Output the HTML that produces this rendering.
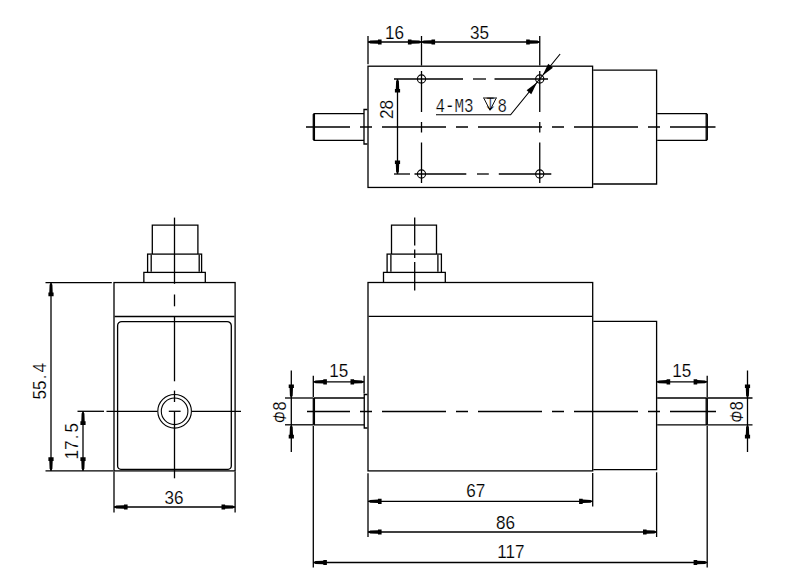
<!DOCTYPE html>
<html lang="en"><head><meta charset="utf-8"><title>Torque sensor outline drawing</title>
<style>
html,body{margin:0;padding:0;background:#fff}
body{width:800px;height:576px;overflow:hidden}
svg{display:block}
svg *{vector-effect:none}
.g{fill:none;stroke:#000;stroke-width:1.3}
.a{fill:#000;stroke:none}
.t{font-family:"Liberation Sans",sans-serif;font-size:18px;fill:#000;stroke:#fff;stroke-width:.15px}
.m{font-family:"Liberation Mono",monospace;font-size:15.9px;fill:#000;stroke:#fff;stroke-width:.2px}
.s{font-family:"DejaVu Sans",sans-serif;font-size:17px;fill:#000;stroke:#fff;stroke-width:.4px}
</style></head><body>
<svg width="800" height="576" viewBox="0 0 800 576">
<rect width="800" height="576" fill="#fff"/>
<g class="g">
<rect x="368" y="66.2" width="224.6" height="121.25"/>
<path d="M593.2 70.1H656.6V184H593.2"/>
<path d="M364 113.6H314.2L313.3 114.5V139.4L314.2 140.3H364"/>
<line x1="314.4" y1="113.6" x2="314.4" y2="140.3"/>
<path d="M367.4 109.5H364V144H367.4"/>
<path d="M657.2 113.6H706.4L707.3 114.5V139.4L706.4 140.3H657.2"/>
<line x1="706.2" y1="113.6" x2="706.2" y2="140.3"/>
<line x1="306" y1="127" x2="715.5" y2="127" stroke-dasharray="64 10 12 10" stroke-dashoffset="20"/>
<circle cx="421.5" cy="79" r="4.1" stroke-width="1.1"/>
<circle cx="421.5" cy="174" r="4.1" stroke-width="1.1"/>
<circle cx="539.75" cy="79" r="4.1" stroke-width="1.1"/>
<circle cx="539.75" cy="174" r="4.1" stroke-width="1.1"/>
<line x1="394" y1="79" x2="463" y2="79"/>
<line x1="473" y1="79" x2="486" y2="79"/>
<line x1="494.5" y1="79" x2="548" y2="79"/>
<line x1="394" y1="174" x2="410" y2="174"/>
<line x1="414.5" y1="174" x2="466.3" y2="174"/>
<line x1="477" y1="174" x2="488.8" y2="174"/>
<line x1="498.8" y1="174" x2="551.3" y2="174"/>
<line x1="421.5" y1="36" x2="421.5" y2="65.6"/>
<line x1="421.5" y1="71" x2="421.5" y2="112"/>
<line x1="421.5" y1="122" x2="421.5" y2="132.5"/>
<line x1="421.5" y1="142.5" x2="421.5" y2="183"/>
<line x1="539.75" y1="36" x2="539.75" y2="65.6"/>
<line x1="539.75" y1="71" x2="539.75" y2="112"/>
<line x1="539.75" y1="122" x2="539.75" y2="132.5"/>
<line x1="539.75" y1="142.5" x2="539.75" y2="183"/>
<line x1="368" y1="36" x2="368" y2="64.2"/>
<line x1="368" y1="42" x2="539.75" y2="42"/>
<polygon class="a" points="368.0,42.0 370.2,40.6 378.0,40.3 378.0,39.4 381.6,39.4 381.6,44.6 378.0,44.6 378.0,43.7 370.2,43.4"/>
<polygon class="a" points="421.5,42.0 419.3,43.4 411.5,43.7 411.5,44.6 407.9,44.6 407.9,39.4 411.5,39.4 411.5,40.3 419.3,40.6"/>
<polygon class="a" points="421.5,42.0 423.7,40.6 431.5,40.3 431.5,39.4 435.1,39.4 435.1,44.6 431.5,44.6 431.5,43.7 423.7,43.4"/>
<polygon class="a" points="539.75,42.0 537.55,43.4 529.75,43.7 529.75,44.6 526.15,44.6 526.15,39.4 529.75,39.4 529.75,40.3 537.55,40.6"/>
<text class="t" transform="translate(394.5,38.5) scale(.95,1)" text-anchor="middle">16</text>
<text class="t" transform="translate(479.5,38.5) scale(.95,1)" text-anchor="middle">35</text>
<line x1="397.5" y1="79" x2="397.5" y2="174"/>
<polygon class="a" points="397.5,79.0 398.9,81.2 399.2,89.0 400.1,89.0 400.1,92.6 394.9,92.6 394.9,89.0 395.8,89.0 396.1,81.2"/>
<polygon class="a" points="397.5,174.0 396.1,171.8 395.8,164.0 394.9,164.0 394.9,160.4 400.1,160.4 400.1,164.0 399.2,164.0 398.9,171.8"/>
<text class="t" transform="translate(392.8,109.5) rotate(-90) scale(.95,1)" text-anchor="middle">28</text>
<path stroke-width="1.15" d="M436 114.75H510.6L560.13 54"/>
<polygon class="a" points="537.16,82.18 531.27,94.15 526.62,90.36"/>
<polygon class="a" points="542.34,75.82 548.23,63.85 552.88,67.64"/>
<text class="m" transform="translate(435.4,111.9) scale(1,1.24)">4-M3</text>
<text class="s" x="490" y="109.9" text-anchor="middle">↧</text>
<path stroke-width="0.95" d="M483 98H497M484 98.5L490 110.3L496 98.5"/>
<text class="m" transform="translate(497.6,111.9) scale(1,1.24)">8</text>
<rect x="114" y="282.55" width="121.1" height="188.35"/>
<line x1="114.6" y1="316.5" x2="234.5" y2="316.5"/>
<path d="M121.8 321.6H227.1A4.2 4.2 0 0 1 231.3 325.8V466.1A3.2 3.2 0 0 1 228.1 469.3H120.8A3.2 3.2 0 0 1 117.6 466.1V325.8A4.2 4.2 0 0 1 121.8 321.6Z"/>
<path d="M152.3 254.1V225.2H197.9V254.1"/>
<rect x="147.6" y="254.1" width="54.0" height="18.3"/>
<line x1="151.2" y1="254.7" x2="151.2" y2="271.8"/>
<line x1="199.2" y1="254.7" x2="199.2" y2="271.8"/>
<path d="M147.6 272.4H143.85V281.9M201.6 272.4H205.3V281.9"/>
<circle cx="174.6" cy="411.3" r="16.8" stroke-width="1.1"/>
<circle cx="174.6" cy="411.3" r="13.3" stroke-width="1.1"/>
<line x1="174.5" y1="217.6" x2="174.5" y2="283.8"/>
<line x1="174.5" y1="294.5" x2="174.5" y2="306.3"/>
<line x1="174.5" y1="316.5" x2="174.5" y2="381.3"/>
<line x1="174.5" y1="390.6" x2="174.5" y2="402"/>
<line x1="174.5" y1="411.3" x2="174.5" y2="478.3"/>
<line x1="77.5" y1="411.3" x2="104" y2="411.3"/>
<line x1="106.5" y1="411.3" x2="157.5" y2="411.3"/>
<line x1="168.8" y1="411.3" x2="180.6" y2="411.3"/>
<line x1="192" y1="411.3" x2="241" y2="411.3"/>
<line x1="45.5" y1="282.55" x2="111.8" y2="282.55"/>
<line x1="45.5" y1="470.9" x2="113.4" y2="470.9"/>
<line x1="51" y1="282.55" x2="51" y2="470.9"/>
<polygon class="a" points="51.0,282.55 52.4,284.75 52.7,292.55 53.6,292.55 53.6,296.15 48.4,296.15 48.4,292.55 49.3,292.55 49.6,284.75"/>
<polygon class="a" points="51.0,470.9 49.6,468.7 49.3,460.9 48.4,460.9 48.4,457.3 53.6,457.3 53.6,460.9 52.7,460.9 52.4,468.7"/>
<text class="t" transform="translate(45.6,381.3) rotate(-90) scale(.95,1)" text-anchor="middle">55<tspan dx="1.3">.</tspan><tspan dx="2">4</tspan></text>
<line x1="83" y1="411.3" x2="83" y2="470.9"/>
<polygon class="a" points="83.0,411.3 84.4,413.5 84.7,421.3 85.6,421.3 85.6,424.9 80.4,424.9 80.4,421.3 81.3,421.3 81.6,413.5"/>
<polygon class="a" points="83.0,470.9 81.6,468.7 81.3,460.9 80.4,460.9 80.4,457.3 85.6,457.3 85.6,460.9 84.7,460.9 84.4,468.7"/>
<text class="t" transform="translate(78.4,441.2) rotate(-90) scale(.95,1)" text-anchor="middle">17<tspan dx="1.3">.</tspan><tspan dx="2">5</tspan></text>
<line x1="114" y1="471.6" x2="114" y2="512.5"/>
<line x1="235.1" y1="471.6" x2="235.1" y2="512.5"/>
<line x1="114" y1="507" x2="235.1" y2="507"/>
<polygon class="a" points="114.0,507.0 116.2,505.6 124.0,505.3 124.0,504.4 127.6,504.4 127.6,509.6 124.0,509.6 124.0,508.7 116.2,508.4"/>
<polygon class="a" points="235.1,507.0 232.9,508.4 225.1,508.7 225.1,509.6 221.5,509.6 221.5,504.4 225.1,504.4 225.1,505.3 232.9,505.6"/>
<text class="t" transform="translate(174,504.4) scale(.95,1)" text-anchor="middle">36</text>
<rect x="368" y="282.5" width="224.7" height="188.4"/>
<line x1="368.6" y1="316.4" x2="592.1" y2="316.4"/>
<path d="M593.3 321.3H656.6V469.7H593.3"/>
<path d="M364.25 398H314.3L313.3 399V423.8L314.3 424.8H364.25"/>
<line x1="314.4" y1="398" x2="314.4" y2="424.8"/>
<path d="M367.4 394.5H364.25V428H367.4"/>
<path d="M657.2 398H706.4L707.3 398.9V423.9L706.4 424.8H657.2"/>
<line x1="706.2" y1="398" x2="706.2" y2="424.8"/>
<path d="M391.5 254.1V225.2H436.5V254.1"/>
<rect x="387.1" y="254.1" width="54.3" height="18.3"/>
<line x1="390.9" y1="254.7" x2="390.9" y2="271.8"/>
<line x1="437.9" y1="254.7" x2="437.9" y2="271.8"/>
<path d="M387.1 272.4H383.5V281.9M441.4 272.4H445.3V281.9"/>
<line x1="307" y1="411.5" x2="716" y2="411.5" stroke-dasharray="64 10 12 10" stroke-dashoffset="21"/>
<line x1="414.7" y1="217.6" x2="414.7" y2="245.6"/>
<line x1="414.7" y1="249.5" x2="414.7" y2="258"/>
<line x1="414.7" y1="262" x2="414.7" y2="290.5"/>
<line x1="313.3" y1="375.8" x2="313.3" y2="397"/>
<line x1="313.3" y1="425.8" x2="313.3" y2="567.5"/>
<line x1="364.1" y1="375.8" x2="364.1" y2="393.5"/>
<line x1="313.3" y1="381.8" x2="364.1" y2="381.8"/>
<polygon class="a" points="313.3,381.8 315.5,380.4 323.3,380.1 323.3,379.2 326.9,379.2 326.9,384.4 323.3,384.4 323.3,383.5 315.5,383.2"/>
<polygon class="a" points="364.1,381.8 361.9,383.2 354.1,383.5 354.1,384.4 350.5,384.4 350.5,379.2 354.1,379.2 354.1,380.1 361.9,380.4"/>
<text class="t" transform="translate(338.8,377.1) scale(.95,1)" text-anchor="middle">15</text>
<line x1="707.2" y1="375.8" x2="707.2" y2="397"/>
<line x1="707.2" y1="425.8" x2="707.2" y2="567.5"/>
<line x1="656.6" y1="381.8" x2="707.2" y2="381.8"/>
<polygon class="a" points="656.6,381.8 658.8,380.4 666.6,380.1 666.6,379.2 670.2,379.2 670.2,384.4 666.6,384.4 666.6,383.5 658.8,383.2"/>
<polygon class="a" points="707.2,381.8 705.0,383.2 697.2,383.5 697.2,384.4 693.6,384.4 693.6,379.2 697.2,379.2 697.2,380.1 705.0,380.4"/>
<text class="t" transform="translate(681.8,377.1) scale(.95,1)" text-anchor="middle">15</text>
<line x1="285" y1="398" x2="313.3" y2="398"/>
<line x1="285" y1="424.8" x2="313.3" y2="424.8"/>
<line x1="291.3" y1="370.5" x2="291.3" y2="452"/>
<polygon class="a" points="291.3,398.0 289.9,395.8 289.6,388.0 288.7,388.0 288.7,384.4 293.9,384.4 293.9,388.0 293.0,388.0 292.7,395.8"/>
<polygon class="a" points="291.3,424.8 292.7,427.0 293.0,434.8 293.9,434.8 293.9,438.4 288.7,438.4 288.7,434.8 289.6,434.8 289.9,427.0"/>
<text class="t" transform="translate(286,417.2) rotate(-90) scale(.76,1)" text-anchor="middle" font-style="italic">Φ</text>
<text class="t" transform="translate(286,406) rotate(-90) scale(.9,1.04)" text-anchor="middle">8</text>
<line x1="707" y1="398" x2="752.5" y2="398"/>
<line x1="707" y1="424.8" x2="752.5" y2="424.8"/>
<line x1="747.5" y1="370.5" x2="747.5" y2="452"/>
<polygon class="a" points="747.5,398.0 746.1,395.8 745.8,388.0 744.9,388.0 744.9,384.4 750.1,384.4 750.1,388.0 749.2,388.0 748.9,395.8"/>
<polygon class="a" points="747.5,424.8 748.9,427.0 749.2,434.8 750.1,434.8 750.1,438.4 744.9,438.4 744.9,434.8 745.8,434.8 746.1,427.0"/>
<text class="t" transform="translate(743,416.9) rotate(-90) scale(.76,1)" text-anchor="middle" font-style="italic">Φ</text>
<text class="t" transform="translate(743,405.8) rotate(-90) scale(.9,1.04)" text-anchor="middle">8</text>
<line x1="368" y1="473.3" x2="368" y2="537"/>
<line x1="592.7" y1="473" x2="592.7" y2="506.5"/>
<line x1="656.6" y1="472.3" x2="656.6" y2="537"/>
<line x1="368" y1="501.3" x2="592.7" y2="501.3"/>
<polygon class="a" points="368.0,501.3 370.2,499.9 378.0,499.6 378.0,498.7 381.6,498.7 381.6,503.9 378.0,503.9 378.0,503.0 370.2,502.7"/>
<polygon class="a" points="592.7,501.3 590.5,502.7 582.7,503.0 582.7,503.9 579.1,503.9 579.1,498.7 582.7,498.7 582.7,499.6 590.5,499.9"/>
<text class="t" transform="translate(475.8,497.2) scale(.95,1)" text-anchor="middle">67</text>
<line x1="368" y1="532" x2="656.6" y2="532"/>
<polygon class="a" points="368.0,532.0 370.2,530.6 378.0,530.3 378.0,529.4 381.6,529.4 381.6,534.6 378.0,534.6 378.0,533.7 370.2,533.4"/>
<polygon class="a" points="656.6,532.0 654.4,533.4 646.6,533.7 646.6,534.6 643.0,534.6 643.0,529.4 646.6,529.4 646.6,530.3 654.4,530.6"/>
<text class="t" transform="translate(505.5,529) scale(.95,1)" text-anchor="middle">86</text>
<line x1="313.3" y1="562.5" x2="707.2" y2="562.5"/>
<polygon class="a" points="313.3,562.5 315.5,561.1 323.3,560.8 323.3,559.9 326.9,559.9 326.9,565.1 323.3,565.1 323.3,564.2 315.5,563.9"/>
<polygon class="a" points="707.2,562.5 705.0,563.9 697.2,564.2 697.2,565.1 693.6,565.1 693.6,559.9 697.2,559.9 697.2,560.8 705.0,561.1"/>
<text class="t" transform="translate(510.8,557.9) scale(.95,1)" text-anchor="middle">117</text>
</g>
</svg>
</body></html>
